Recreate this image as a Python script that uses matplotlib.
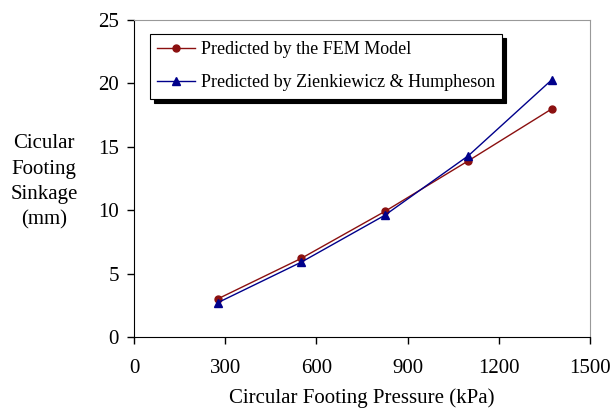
import matplotlib
matplotlib.use("Agg")
import matplotlib.pyplot as plt

plt.rcParams['font.family'] = ['Liberation Serif', 'DejaVu Serif']

pressure = [275, 550, 825, 1100, 1375]
fem_sinkage = [3.0, 6.2, 9.9, 13.9, 18.0]
zh_sinkage = [2.7, 5.9, 9.6, 14.3, 20.3]
x_ticks = [0, 300, 600, 900, 1200, 1500]
y_ticks = [0, 5, 10, 15, 20, 25]

fig = plt.figure(figsize=(6.14, 4.12), dpi=100)
ax = fig.add_axes([134/614, 75/412, 456/614, 317/412])

ax.plot(pressure, fem_sinkage, color='#8b1010', marker='o', markersize=5,
        linewidth=1, label='Predicted by the FEM Model')
ax.plot(pressure, zh_sinkage, color='#00008b', marker='^', markersize=6,
        linewidth=1, label='Predicted by Zienkiewicz & Humpheson')

ax.set_xlim(0, 1500)
ax.set_ylim(0, 25)
ax.set_xticks(x_ticks)
ax.set_yticks(y_ticks)
ax.tick_params(direction='out', length=5, labelsize=15, width=1)
ax.tick_params(axis='x', pad=11)
ax.tick_params(axis='y', pad=6)
for s in ['top', 'right']:
    ax.spines[s].set_color('#999999')
for s in ['left', 'bottom']:
    ax.spines[s].set_color('black')

ax.set_xlabel('Circular Footing Pressure (kPa)', fontsize=15, labelpad=7)
fig.text(44/614, 1 - 182/412, 'Cicular\nFooting\nSinkage\n(mm)', fontsize=15,
         ha='center', va='center', linespacing=1.45)

leg = ax.legend(loc='upper left', bbox_to_anchor=(16/456, 1 - 14/317), fontsize=13,
                fancybox=False, shadow={'color': 'black', 'alpha': 1, 'ox': 3, 'oy': -3},
                edgecolor='black', framealpha=1, handlelength=2.1,
                handletextpad=0.3, labelspacing=0.9, borderpad=0.4,
                borderaxespad=0)
leg.get_frame().set_linewidth(0.8)

fig.savefig('out.png', dpi=100)
